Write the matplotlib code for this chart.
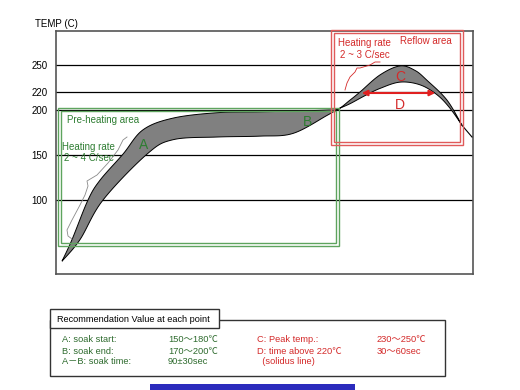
import numpy as np
import matplotlib
matplotlib.use("Agg")
import matplotlib.pyplot as plt
from matplotlib.patches import Rectangle

plt.rcParams['font.family'] = ['Liberation Sans', 'Noto Sans CJK JP', 'DejaVu Sans']

# temperature profile band (time in arbitrary units, temp in C)
up_time = [6, 16, 32, 44, 67, 87, 117, 161, 204, 244, 271, 282,
           294, 304, 324, 344, 359, 371, 391, 406]
up_temp = [32, 56, 100, 122, 151, 178, 191, 197, 198, 199, 200, 201,
           211, 220, 239, 249, 244, 233, 211, 183]
lo_time = [6, 24, 47, 91, 117, 161, 204, 237, 271, 282,
           294, 309, 324, 344, 364, 381, 394, 406]
lo_temp = [32, 56, 100, 151, 167, 170, 171, 174, 194, 201,
           207, 216, 224, 231, 228, 217, 202, 183]
tail_time = [406, 416]
tail_temp = [183, 170]

ticks = [100, 150, 200, 220, 250]


def smooth(x, y, n=12):
    # catmull-rom through the read points
    p = np.column_stack([x, y]).astype(float)
    p = np.vstack([p[0], p, p[-1]])
    out = []
    for i in range(1, len(p) - 2):
        p0, p1, p2, p3 = p[i - 1], p[i], p[i + 1], p[i + 2]
        for t in np.linspace(0, 1, n, endpoint=False):
            t2, t3 = t * t, t * t * t
            out.append(0.5 * ((2 * p1) + (-p0 + p2) * t +
                              (2 * p0 - 5 * p1 + 4 * p2 - p3) * t2 +
                              (-p0 + 3 * p1 - 3 * p2 + p3) * t3))
    out.append(p[-2])
    out = np.array(out)
    return out[:, 0], out[:, 1]


fig = plt.figure(figsize=(5.2, 3.9), dpi=100)
ax = fig.add_axes([56 / 520, 1 - 274 / 390, 417 / 520, 243 / 390])
ax.set_xlim(0, 417)
ax.set_ylim(17.8, 287.8)

for t in ticks:
    ax.axhline(t, color='black', lw=0.9, zorder=1)

ux, uy = smooth(up_time, up_temp)
lx, ly = smooth(lo_time, lo_temp)
ax.fill(np.concatenate([ux, lx[::-1]]), np.concatenate([uy, ly[::-1]]),
        facecolor='#808080', edgecolor='black', lw=0.7, zorder=3)
ax.plot(tail_time, tail_temp, color='black', lw=0.8, zorder=3)

ax.set_xticks([])
ax.set_yticks(ticks)
ax.set_yticklabels([str(t) for t in ticks], fontsize=7)
ax.tick_params(axis='y', length=0, pad=6)
for s in ax.spines.values():
    s.set_color('#555555')
    s.set_linewidth(1.2)

# overlay in pixel coordinates for annotations
ov = fig.add_axes([0, 0, 1, 1])
ov.set_xlim(0, 520)
ov.set_ylim(390, 0)
ov.axis('off')
ov.patch.set_alpha(0)

green = '#5ea45e'
gtext = '#2e7d32'
red = '#e05a5a'
rtext = '#d42a2a'

ov.text(35, 24, 'TEMP (C)', fontsize=7, va='center', ha='left')

# pre-heating box (double line)
ov.add_patch(Rectangle((58, 108), 281, 138, fill=False, ec=green, lw=1.0))
ov.add_patch(Rectangle((61, 111), 275, 132, fill=False, ec=green, lw=1.0))
ov.text(67, 120, 'Pre-heating area', fontsize=7, color=gtext, va='center')
ov.text(62, 147, 'Heating rate', fontsize=7, color=gtext, va='center')
ov.text(64, 158, '2 ~ 4 C/sec', fontsize=7, color=gtext, va='center')
ov.text(144, 145, 'A', fontsize=10, color=gtext, ha='center', va='center')
ov.text(308, 122, 'B', fontsize=10, color=gtext, ha='center', va='center')
bx = [127, 123, 118, 108, 97, 87, 88, 85, 80, 72, 67, 68, 72]
by = [137, 140, 150, 163, 175, 181, 186, 195, 205, 220, 230, 236, 239]
ov.plot(bx, by, color='#8a8a8a', lw=0.6)

# reflow box (double line)
ov.add_patch(Rectangle((331, 30), 132, 115, fill=False, ec=red, lw=1.0))
ov.add_patch(Rectangle((334, 33), 126, 109, fill=False, ec=red, lw=1.0))
ov.text(338, 43, 'Heating rate', fontsize=7, color=rtext, va='center')
ov.text(340, 55, '2 ~ 3 C/sec', fontsize=7, color=rtext, va='center')
ov.text(400, 41, 'Reflow area', fontsize=7, color=rtext, va='center')
ov.text(400, 77, 'C', fontsize=10, color=rtext, ha='center', va='center')
ov.text(400, 105, 'D', fontsize=10, color=rtext, ha='center', va='center')
rx = [380, 375, 370, 360, 357, 355, 350, 347, 345]
ry = [62, 62, 65, 68, 68, 72, 77, 83, 90]
ov.plot(rx, ry, color=rtext, lw=0.6)
ov.annotate('', xy=(359, 93), xytext=(438, 93),
            arrowprops=dict(arrowstyle='<|-|>', color='#e02020', lw=1.5,
                            mutation_scale=8))

# recommendation table
ov.add_patch(Rectangle((50, 320), 395, 56, fill=False, ec='#333333', lw=1.0))
ov.add_patch(Rectangle((50, 309), 169, 19, facecolor='white', ec='#333333', lw=1.0))
ov.text(57, 319, 'Recommendation Value at each point', fontsize=6.6, va='center')

rows_left = ['A: soak start:', 'B: soak end:', 'A－B: soak time:']
vals_left = ['150～180℃', '170～200℃', '90±30sec']
rows_right = ['C: Peak temp.:', 'D: time above 220℃', '  (solidus line)']
vals_right = ['230～250℃', '30～60sec', '']
row_y = [340, 351, 362]
for i in range(3):
    ov.text(62, row_y[i], rows_left[i], fontsize=6.7, color='#2e6b2e', va='center')
    ov.text(168, row_y[i], vals_left[i], fontsize=6.7, color='#2e6b2e', va='center')
    ov.text(257, row_y[i], rows_right[i], fontsize=6.7, color=rtext, va='center')
    ov.text(377, row_y[i], vals_right[i], fontsize=6.7, color=rtext, va='center')

ov.add_patch(Rectangle((150, 384), 205, 8, facecolor='#2b2bbd', ec='none'))

fig.savefig('out.png', dpi=100)
